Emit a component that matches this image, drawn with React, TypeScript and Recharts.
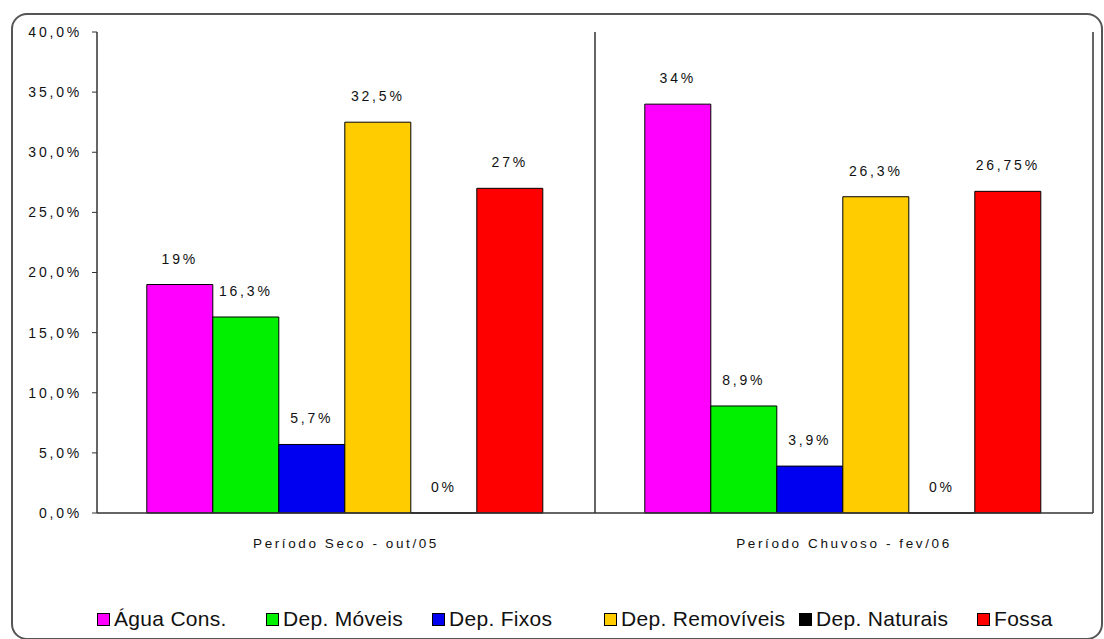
import { BarChart, Bar, XAxis, YAxis, CartesianGrid, LabelList } from "recharts";

const categories = ["Período Seco - out/05", "Período Chuvoso - fev/06"];
const aguaCons = [19, 34];
const depMoveis = [16.3, 8.9];
const depFixos = [5.7, 3.9];
const depRemoviveis = [32.5, 26.3];
const depNaturais = [0, 0];
const fossa = [27, 26.75];
const yTicks = [0, 5, 10, 15, 20, 25, 30, 35, 40];

const series = [
  { key: "agua", name: "Água Cons.", color: "#FF00FF", values: aguaCons },
  { key: "moveis", name: "Dep. Móveis", color: "#00F000", values: depMoveis },
  { key: "fixos", name: "Dep. Fixos", color: "#0000F0", values: depFixos },
  { key: "removiveis", name: "Dep. Removíveis", color: "#FFCC00", values: depRemoviveis },
  { key: "naturais", name: "Dep. Naturais", color: "#000000", values: depNaturais },
  { key: "fossa", name: "Fossa", color: "#FF0000", values: fossa },
];

// legend item slots, left to right
const legendWidths = [169, 166, 172, 195, 178, 110];

const data = categories.map((cat, i) => {
  const row: Record<string, string | number> = { cat };
  series.forEach((s) => (row[s.key] = s.values[i]));
  return row;
});

const pct = (v: number) => String(v).replace(".", ",") + "%";
const axisPct = (v: number) => v.toFixed(1).replace(".", ",") + "%";

const font = "Arial, 'Liberation Sans', sans-serif";

export default function App() {
  return (
    <div style={{ position: "absolute", left: 0, top: 0, width: 1104, height: 639, background: "#fff", fontFamily: font }}>
      <div
        style={{
          position: "absolute",
          left: 11,
          top: 13,
          width: 1088,
          height: 623,
          border: "2px solid #555",
          borderRadius: 16,
        }}
      />
      <div style={{ position: "absolute", left: 0, top: 0 }}>
        <BarChart
          width={1104}
          height={639}
          data={data}
          margin={{ top: 32, right: 11, left: 27, bottom: 96 }}
          barCategoryGap="10%"
          barGap={0}
        >
          <CartesianGrid
            horizontal={false}
            stroke="#333"
            strokeWidth={1.5}
            verticalCoordinatesGenerator={({ offset }: any) => [
              offset.left + offset.width / 2,
              offset.left + offset.width,
            ]}
          />
          <XAxis
            dataKey="cat"
            height={30}
            tickLine={false}
            tickMargin={19}
            axisLine={{ stroke: "#333", strokeWidth: 1.5 }}
            tick={{ fontSize: 13.5, fill: "#111", fontFamily: font, letterSpacing: 2.6 }}
          />
          <YAxis
            width={70}
            domain={[0, 40]}
            ticks={yTicks}
            tickFormatter={axisPct}
            interval={0}
            tickSize={5}
            tickMargin={10}
            axisLine={{ stroke: "#333", strokeWidth: 1.5 }}
            tickLine={{ stroke: "#333" }}
            tick={{ fontSize: 14, fill: "#111", fontFamily: font, letterSpacing: 2.8 }}
          />
          {series.map((s) => (
            <Bar
              key={s.key}
              dataKey={s.key}
              name={s.name}
              fill={s.color}
              stroke="#000"
              strokeWidth={1}
              minPointSize={0.01}
              isAnimationActive={false}
            >
              <LabelList
                dataKey={s.key}
                position="top"
                offset={21}
                formatter={(v: any) => pct(Number(v))}
                style={{ fontSize: 14, fill: "#111", fontFamily: font, letterSpacing: 2.8 }}
              />
            </Bar>
          ))}
        </BarChart>
      </div>
      <div
        style={{
          position: "absolute",
          left: 97,
          top: 607,
          display: "flex",
          alignItems: "center",
          fontSize: 21,
          color: "#111",
          letterSpacing: 0.3,
          whiteSpace: "nowrap",
        }}
      >
        {series.map((s, i) => (
          <div key={s.key} style={{ display: "flex", alignItems: "center", width: legendWidths[i] }}>
            <span
              style={{
                display: "inline-block",
                width: 11,
                height: 11,
                background: s.color,
                border: "1px solid #000",
                marginRight: 4,
              }}
            />
            <span>{s.name}</span>
          </div>
        ))}
      </div>
    </div>
  );
}
